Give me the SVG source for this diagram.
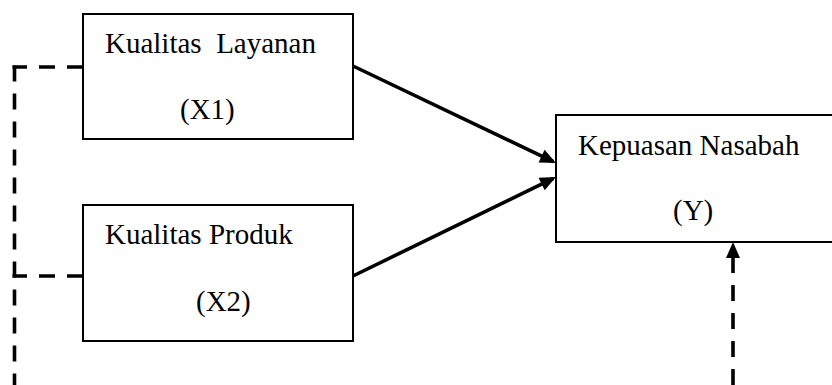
<svg xmlns="http://www.w3.org/2000/svg" width="832" height="385" viewBox="0 0 832 385">
<style>
.box{fill:#fff;stroke:#000;stroke-width:2}
.lbl{font-family:"Liberation Serif","Times New Roman",serif;font-size:29px;fill:#000}
.solid{fill:none;stroke:#000;stroke-width:3.6}
.dash{fill:none;stroke:#000;stroke-width:3.6;stroke-dasharray:16 12}
</style>
<defs>
<marker id="arrow" markerUnits="userSpaceOnUse" markerWidth="16" markerHeight="14" refX="13" refY="7" orient="auto" overflow="visible">
<path d="M0,0 L16,7 L0,14 z" fill="#000"/>
</marker>
</defs>
<rect width="832" height="385" fill="#fff"/>
<g id="connectors">
<path class="solid" d="M353,66 L553.3,161.7" marker-end="url(#arrow)"/>
<path class="solid" d="M353,276 L553.3,178.3" marker-end="url(#arrow)"/>
<path class="dash" d="M83,67 H12.5"/>
<path class="dash" d="M14.5,65.5 V385"/>
<path class="dash" d="M83,276 H12.5"/>
<path class="dash" d="M733,385 V245" marker-end="url(#arrow)"/>
</g>
<g id="node-x1">
<rect class="box" x="83" y="14" width="270" height="125"/>
<text class="lbl" x="105" y="53" xml:space="preserve">Kualitas  Layanan</text>
<text class="lbl" x="180" y="119">(X1)</text>
</g>
<g id="node-x2">
<rect class="box" x="83" y="205" width="270" height="136"/>
<text class="lbl" x="105" y="244">Kualitas Produk</text>
<text class="lbl" x="196" y="311">(X2)</text>
</g>
<g id="node-y">
<rect class="box" x="556" y="115" width="290" height="127"/>
<text class="lbl" x="578" y="155">Kepuasan Nasabah</text>
<text class="lbl" x="673" y="220">(Y)</text>
</g>
</svg>
